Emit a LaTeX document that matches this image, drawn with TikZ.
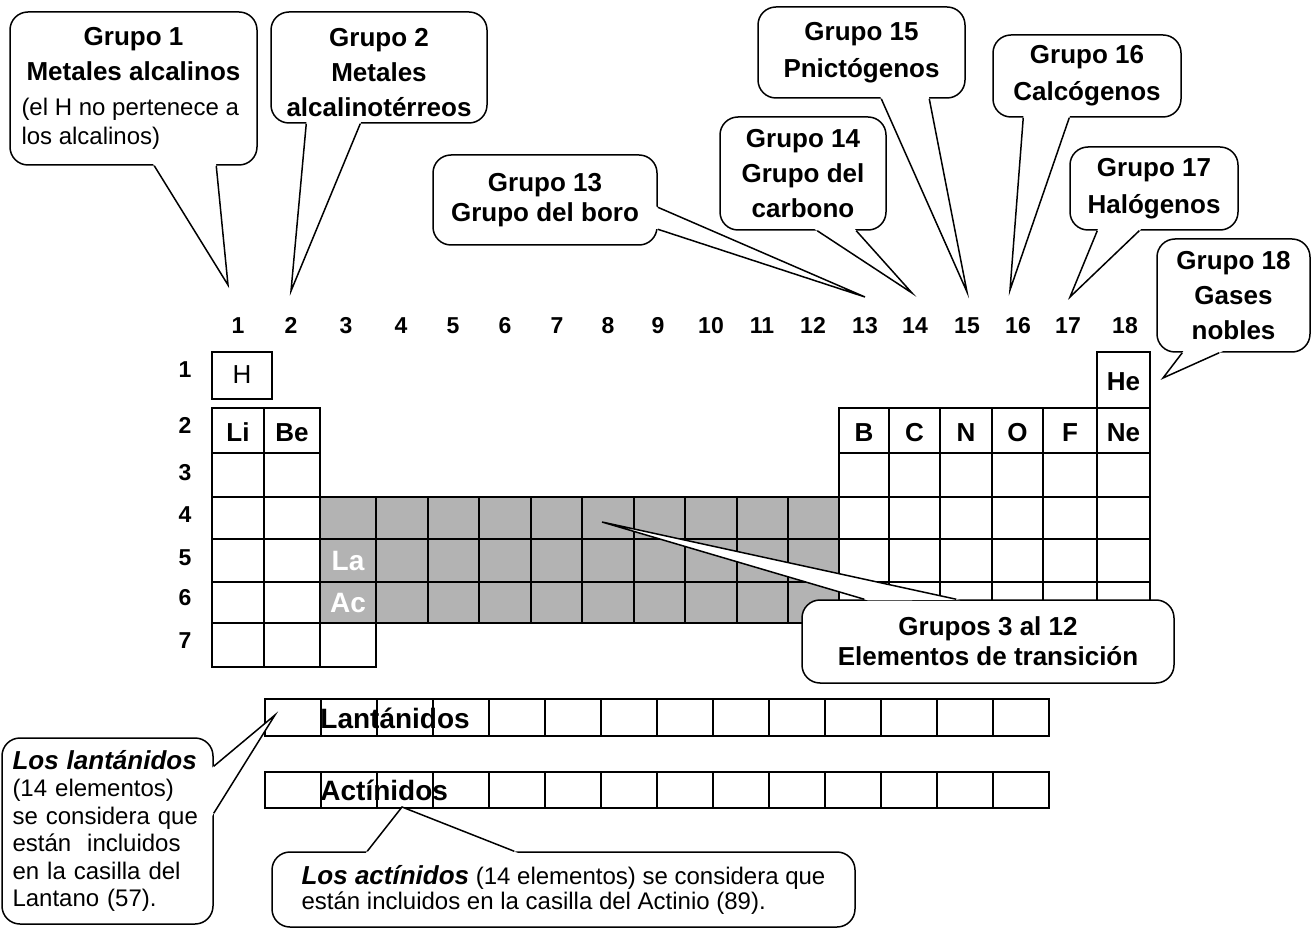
\documentclass[tikz,border=0pt]{standalone}
\usepackage{fontspec}
\setmainfont{Liberation Sans}
\usetikzlibrary{calc}
\definecolor{tgray}{RGB}{179,179,179}
\tikzset{
  cell/.style={draw, line width=1pt},
  num/.style={font=\bfseries\fontsize{11.5}{14}\selectfont, text height=8.3pt, text depth=0pt},
  elem/.style={font=\bfseries\fontsize{13}{15}\selectfont, text height=9.3pt, text depth=0pt},
  bubble/.style={draw, fill=white, rounded corners=9pt, line width=0.75pt, inner sep=0pt, align=center, font=\bfseries\fontsize{13}{17.5}\selectfont},
  tight/.style={font=\bfseries\fontsize{13}{15}\selectfont},
  loose/.style={font=\bfseries\fontsize{13}{18.5}\selectfont},
  tailline/.style={line width=0.75pt, line join=miter}
}
% tail of a bubble: bubble, anchor, offset a, offset b, tip
\newcommand{\bubbletail}[5]{%
  \coordinate (#1-a) at ($(#1.#2)+(#3)$);
  \coordinate (#1-b) at ($(#1.#2)+(#4)$);
  \coordinate (#1-tip) at (#5);
  \fill[white] ($(#1-a)!-2pt!(#1-tip)$) -- (#1-tip) -- ($(#1-b)!-2pt!(#1-tip)$) -- cycle;
  \draw[tailline] (#1-a) -- (#1-tip) -- (#1-b);}
\begin{document}
\begin{tikzpicture}[x=0.5pt,y=-0.5pt]
        \useasboundingbox (0,0) rectangle (1311,930);
        %draw the cells of the table
        \draw[cell] (212,352) rectangle (272,399);
        \draw[cell] (1097,352) rectangle (1150,408);
        \fill[tgray] (320,497) rectangle (839,623);
        \foreach \xa/\xb in {212/264,264/320}
          \foreach \ya/\yb in {408/453,453/497,497/539,539/582,582/623,623/667}
            \draw[cell] (\xa,\ya) rectangle (\xb,\yb);
        \draw[cell] (320,623) rectangle (376,667);
        \foreach \xa/\xb in {320/376,376/428,428/479,479/531,531/582,582/634,634/685,685/737,737/788,788/839}
          \foreach \ya/\yb in {497/539,539/582,582/623}
            \draw[cell] (\xa,\ya) rectangle (\xb,\yb);
        \foreach \xa/\xb in {839/889,889/940,940/992,992/1043,1043/1097,1097/1150}
          \foreach \ya/\yb in {408/453,453/497,497/539,539/582,582/623}
            \draw[cell] (\xa,\ya) rectangle (\xb,\yb);
        % lanthanide and actinide rows
        \foreach \i in {0,...,13}
          \foreach \ya/\yb in {699/736,772/808}
            \draw[cell] (265+56*\i,\ya) rectangle (321+56*\i,\yb);

        % label groups and periods
        \foreach \n/\x in {1/238,2/291,3/346,4/401,5/453,6/505,7/557,8/608,9/658,10/711,11/762,12/813,13/865,14/915,15/967,16/1018,17/1068,18/1125}
          \node[num] (c\n) at (\x,325) {\n};
        \foreach \n/\y in {1/369,2/425.5,3/472.5,4/514,5/557.5,6/597.5,7/640.5}
          \node[num] (r\n) at (185,\y) {\n};

        % element symbols
        \node[elem, font=\fontsize{13}{15}\selectfont] (H) at (242,374) {H};
        \node[elem] (He) at (1123.5,381) {He};
        \foreach \s/\x in {Li/238,Be/292,B/864,C/914.5,N/966,O/1017.5,F/1070,Ne/1123.5}
          \node[elem] (\s) at (\x,432) {\s};
        \node[elem, text=white, font=\bfseries\fontsize{14}{16}\selectfont] (La) at (348,561) {La};
        \node[elem, text=white, font=\bfseries\fontsize{14}{16}\selectfont] (Ac) at (348,603) {Ac};
        \node[anchor=west, inner sep=0pt, font=\bfseries\fontsize{14}{16}\selectfont] (lan) at (320,718) {Lantánidos};
        \node[anchor=west, inner sep=0pt, font=\bfseries\fontsize{14}{16}\selectfont] (act) at (320,790) {Actínidos};

        % callouts
        \node[bubble, minimum width=123.5pt, minimum height=76.5pt] (g1) at (133.5,88.5)
          {Grupo 1\\Metales alcalinos\\\parbox[t]{112pt}{\mdseries\fontsize{12}{14.5}\selectfont(el H no pertenece a\\los alcalinos)}};
        \bubbletail{g1}{south west}{145,0}{207,0}{228,285}
        \node[bubble, minimum width=108pt, minimum height=55.5pt] (g2) at (379,67.5) {\\[-3pt]Grupo 2\\Metales\\alcalinotérreos};
        \bubbletail{g2}{south west}{36,0}{90,0}{291,291}
        \node[bubble, tight, minimum width=112pt, minimum height=45pt] (g13) at (545,200) {Grupo 13\\Grupo del boro};
        \bubbletail{g13}{north east}{0,53}{0,75}{865,297}
        \node[bubble, loose, minimum width=103.5pt, minimum height=45.5pt] (g15) at (861.5,52.5) {Grupo 15\\Pnictógenos};
        \bubbletail{g15}{south west}{124,0}{172,0}{967,292}
        \node[bubble, minimum width=83pt, minimum height=56.5pt] (g14) at (803,173.5) {Grupo 14\\Grupo del\\carbono};
        \bubbletail{g14}{south west}{98,0}{137,0}{912,293}
        \node[bubble, loose, minimum width=94pt, minimum height=41pt] (g16) at (1087,76) {Grupo 16\\Calcógenos};
        \bubbletail{g16}{south west}{31,0}{77,0}{1010,290}
        \node[bubble, loose, minimum width=84pt, minimum height=41.5pt] (g17) at (1154,188.5) {Grupo 17\\Halógenos};
        \bubbletail{g17}{south west}{28,0}{70,0}{1070,297}
        \node[bubble, minimum width=76.5pt, minimum height=56.5pt] (g18) at (1233.5,295.5) {Grupo 18\\Gases\\nobles};
        \bubbletail{g18}{south west}{26,0}{63,0}{1163,378}
        \node[bubble, tight, minimum width=186pt, minimum height=41.5pt] (gt) at (988,641.5) {Grupos 3 al 12\\Elementos de transición};
        \bubbletail{gt}{north west}{63,0}{155,0}{602,522}
        \node[bubble, minimum width=105.5pt, minimum height=93pt, align=left, text width=95pt, font=\fontsize{12}{13.75}\selectfont] (gl) at (107.5,831)
          {{\bfseries\itshape\fontsize{13}{13.75}\selectfont Los lantánidos}\\(14 elementos)\\se considera que\\están\ \ incluidos\\en la casilla del\\Lantano (57).};
        \bubbletail{gl}{north east}{0,29}{0,76}{275,715}
        \node[bubble, minimum width=291.5pt, minimum height=37.5pt, align=left, font=\fontsize{12}{12.5}\selectfont] (ga) at (563.5,889.5)
          {{\bfseries\itshape\fontsize{13}{12.5}\selectfont Los actínidos} (14 elementos) se considera que\\están incluidos en la casilla del Actinio (89).};
        \bubbletail{ga}{north west}{96,0}{243,0}{402,807}
    \end{tikzpicture}
\end{document}
